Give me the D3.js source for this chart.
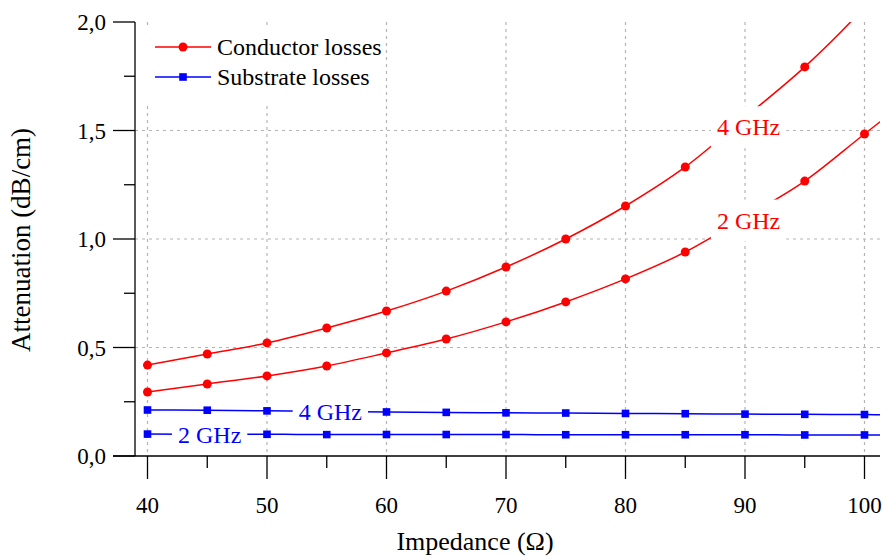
<!DOCTYPE html>
<html>
<head>
<meta charset="utf-8">
<script src="https://cdn.jsdelivr.net/npm/d3@7"></script>
<style>
  html, body { margin: 0; padding: 0; background: #fff; }
  svg { display: block; }
  text { font-family: "Liberation Serif", "Times New Roman", serif; }
</style>
</head>
<body>
<svg id="chart" width="886" height="556"></svg>
<script>
// Impedance values where the attenuation was evaluated (Ω)
const impedance = [40, 45, 50, 55, 60, 65, 70, 75, 80, 85, 90, 95, 100];
// Line continuation just past the last marker (Ω)
const tailImpedance = 102;

// Conductor losses (dB/cm)
const conductor4GHz = [0.419, 0.470, 0.521, 0.590, 0.668, 0.760, 0.871, 1.000, 1.152, 1.332, 1.560, 1.793, 2.070];
const conductor2GHz = [0.295, 0.332, 0.369, 0.415, 0.475, 0.539, 0.618, 0.710, 0.816, 0.940, 1.100, 1.267, 1.484];
const conductorTail = [2.200, 1.570];

// Substrate losses (dB/cm)
const substrate4GHz = [0.212, 0.211, 0.208, 0.205, 0.203, 0.201, 0.199, 0.198, 0.196, 0.195, 0.193, 0.192, 0.191];
const substrate2GHz = [0.101, 0.100, 0.100, 0.099, 0.099, 0.099, 0.099, 0.098, 0.098, 0.098, 0.098, 0.097, 0.097];
const substrateTail = [0.190, 0.097];

const yTicks = [0, 0.5, 1.0, 1.5, 2.0];
const yMinorTicks = [0.25, 0.75, 1.25, 1.75];
const xTicks = [40, 50, 60, 70, 80, 90, 100];
const xMinorTicks = [45, 55, 65, 75, 85, 95];

const legendItems = ["Conductor losses", "Substrate losses"];
// Curve labels: text, impedance where placed, attenuation where placed
const labelText = ["4 GHz", "2 GHz", "4 GHz", "2 GHz"];
const labelAt = [90.3, 90.3, 55.3, 45.2];
const labelValue = [1.515, 1.085, 0.205, 0.099];

const RED = "#ff0000", BLUE = "#0000ff";

const svg = d3.select("#chart");
const plotLeft = 135, plotRight = 880, plotTop = 22, plotBottom = 456;

const x = d3.scaleLinear().domain([40, 100]).range([147.5, 864.5]);
const y = d3.scaleLinear().domain([0, 2]).range([plotBottom, plotTop]);

const fmt = d => d3.format(".1f")(d).replace(".", ",");

// Grid
const grid = svg.append("g").attr("stroke", "#b4b4b4").attr("stroke-width", 1.2)
  .attr("stroke-dasharray", "3,4");
grid.selectAll("line.v").data(xTicks).join("line")
  .attr("x1", d => x(d)).attr("x2", d => x(d))
  .attr("y1", plotTop).attr("y2", plotBottom);
grid.selectAll("line.h").data(yTicks.filter(d => d > 0 && d < 2)).join("line")
  .attr("x1", plotLeft).attr("x2", plotRight)
  .attr("y1", d => y(d)).attr("y2", d => y(d));

// Clip for curves
svg.append("defs").append("clipPath").attr("id", "plot")
  .append("rect").attr("x", plotLeft).attr("y", plotTop)
  .attr("width", plotRight - plotLeft).attr("height", plotBottom - plotTop);

const line = d3.line().x(d => x(d[0])).y(d => y(d[1])).curve(d3.curveMonotoneX);

function series(values, tail, color, shape) {
  const pts = impedance.map((z, i) => [z, values[i]]);
  const g = svg.append("g").attr("clip-path", "url(#plot)");
  g.append("path").datum(pts.concat([[tailImpedance, tail]]))
    .attr("d", line).attr("fill", "none").attr("stroke", color).attr("stroke-width", 1.5);
  if (shape === "circle") {
    g.selectAll("circle").data(pts).join("circle")
      .attr("cx", d => x(d[0])).attr("cy", d => y(d[1])).attr("r", 4.5).attr("fill", color);
  } else {
    g.selectAll("rect").data(pts).join("rect")
      .attr("x", d => x(d[0]) - 3.8).attr("y", d => y(d[1]) - 3.8)
      .attr("width", 7.6).attr("height", 7.6).attr("fill", color);
  }
}
series(conductor4GHz, conductorTail[0], RED, "circle");
series(conductor2GHz, conductorTail[1], RED, "circle");
series(substrate4GHz, substrateTail[0], BLUE, "square");
series(substrate2GHz, substrateTail[1], BLUE, "square");

// Curve labels on white boxes
const labelColor = [RED, RED, BLUE, BLUE];
labelText.forEach((t, i) => {
  const g = svg.append("g");
  const cx = x(labelAt[i]), cy = y(labelValue[i]);
  const tx = g.append("text").attr("x", cx).attr("y", cy)
    .attr("text-anchor", "middle").attr("dominant-baseline", "central")
    .attr("font-size", 24).attr("fill", labelColor[i]).text(t);
  const bb = tx.node().getBBox();
  const halfH = i < 2 ? 21 : 19;
  g.insert("rect", "text").attr("x", bb.x - 6).attr("y", cy - halfH)
    .attr("width", bb.width + 12).attr("height", 2 * halfH).attr("fill", "#fff");
});

// Axes
const ax = svg.append("g").attr("stroke", "#000").attr("stroke-width", 1.3);
ax.append("line").attr("x1", plotLeft).attr("x2", plotLeft).attr("y1", plotTop).attr("y2", plotBottom);
ax.append("line").attr("x1", 113).attr("x2", plotRight).attr("y1", plotBottom).attr("y2", plotBottom);
ax.selectAll("line.yt").data(yTicks).join("line")
  .attr("x1", 113).attr("x2", plotLeft).attr("y1", d => y(d)).attr("y2", d => y(d));
ax.selectAll("line.ym").data(yMinorTicks).join("line")
  .attr("x1", 124).attr("x2", plotLeft).attr("y1", d => y(d)).attr("y2", d => y(d));
ax.selectAll("line.xt").data(xTicks).join("line")
  .attr("x1", d => x(d)).attr("x2", d => x(d)).attr("y1", plotBottom).attr("y2", 479);
ax.selectAll("line.xm").data(xMinorTicks).join("line")
  .attr("x1", d => x(d)).attr("x2", d => x(d)).attr("y1", plotBottom).attr("y2", 468);

svg.selectAll("text.yl").data(yTicks).join("text")
  .attr("x", 106).attr("y", d => y(d)).attr("dy", "0.35em")
  .attr("text-anchor", "end").attr("font-size", 23).attr("fill", "#000").text(fmt);
svg.selectAll("text.xl").data(xTicks).join("text")
  .attr("x", d => x(d)).attr("y", 513)
  .attr("text-anchor", "middle").attr("font-size", 23).attr("fill", "#000").text(d => d);

svg.append("text").attr("x", 475).attr("y", 550).attr("text-anchor", "middle")
  .attr("font-size", 26).attr("fill", "#000").text("Impedance (Ω)");
svg.append("text").attr("transform", "translate(30,240) rotate(-90)").attr("text-anchor", "middle")
  .attr("font-size", 27).attr("fill", "#000").text("Attenuation (dB/cm)");

// Legend
const lg = svg.append("g");
lg.append("rect").attr("x", 142).attr("y", 26).attr("width", 238).attr("height", 76).attr("fill", "#fff");
const legendColor = [RED, BLUE];
legendItems.forEach((t, i) => {
  const ly = 47 + i * 30;
  lg.append("line").attr("x1", 155).attr("x2", 211).attr("y1", ly).attr("y2", ly)
    .attr("stroke", legendColor[i]).attr("stroke-width", 1.5);
  if (i === 0) lg.append("circle").attr("cx", 183).attr("cy", ly).attr("r", 4.5).attr("fill", RED);
  else lg.append("rect").attr("x", 183 - 3.8).attr("y", ly - 3.8).attr("width", 7.6).attr("height", 7.6).attr("fill", BLUE);
  lg.append("text").attr("x", 217).attr("y", ly).attr("dy", "0.35em")
    .attr("font-size", 24).attr("fill", "#000").text(t);
});
</script>
</body>
</html>
